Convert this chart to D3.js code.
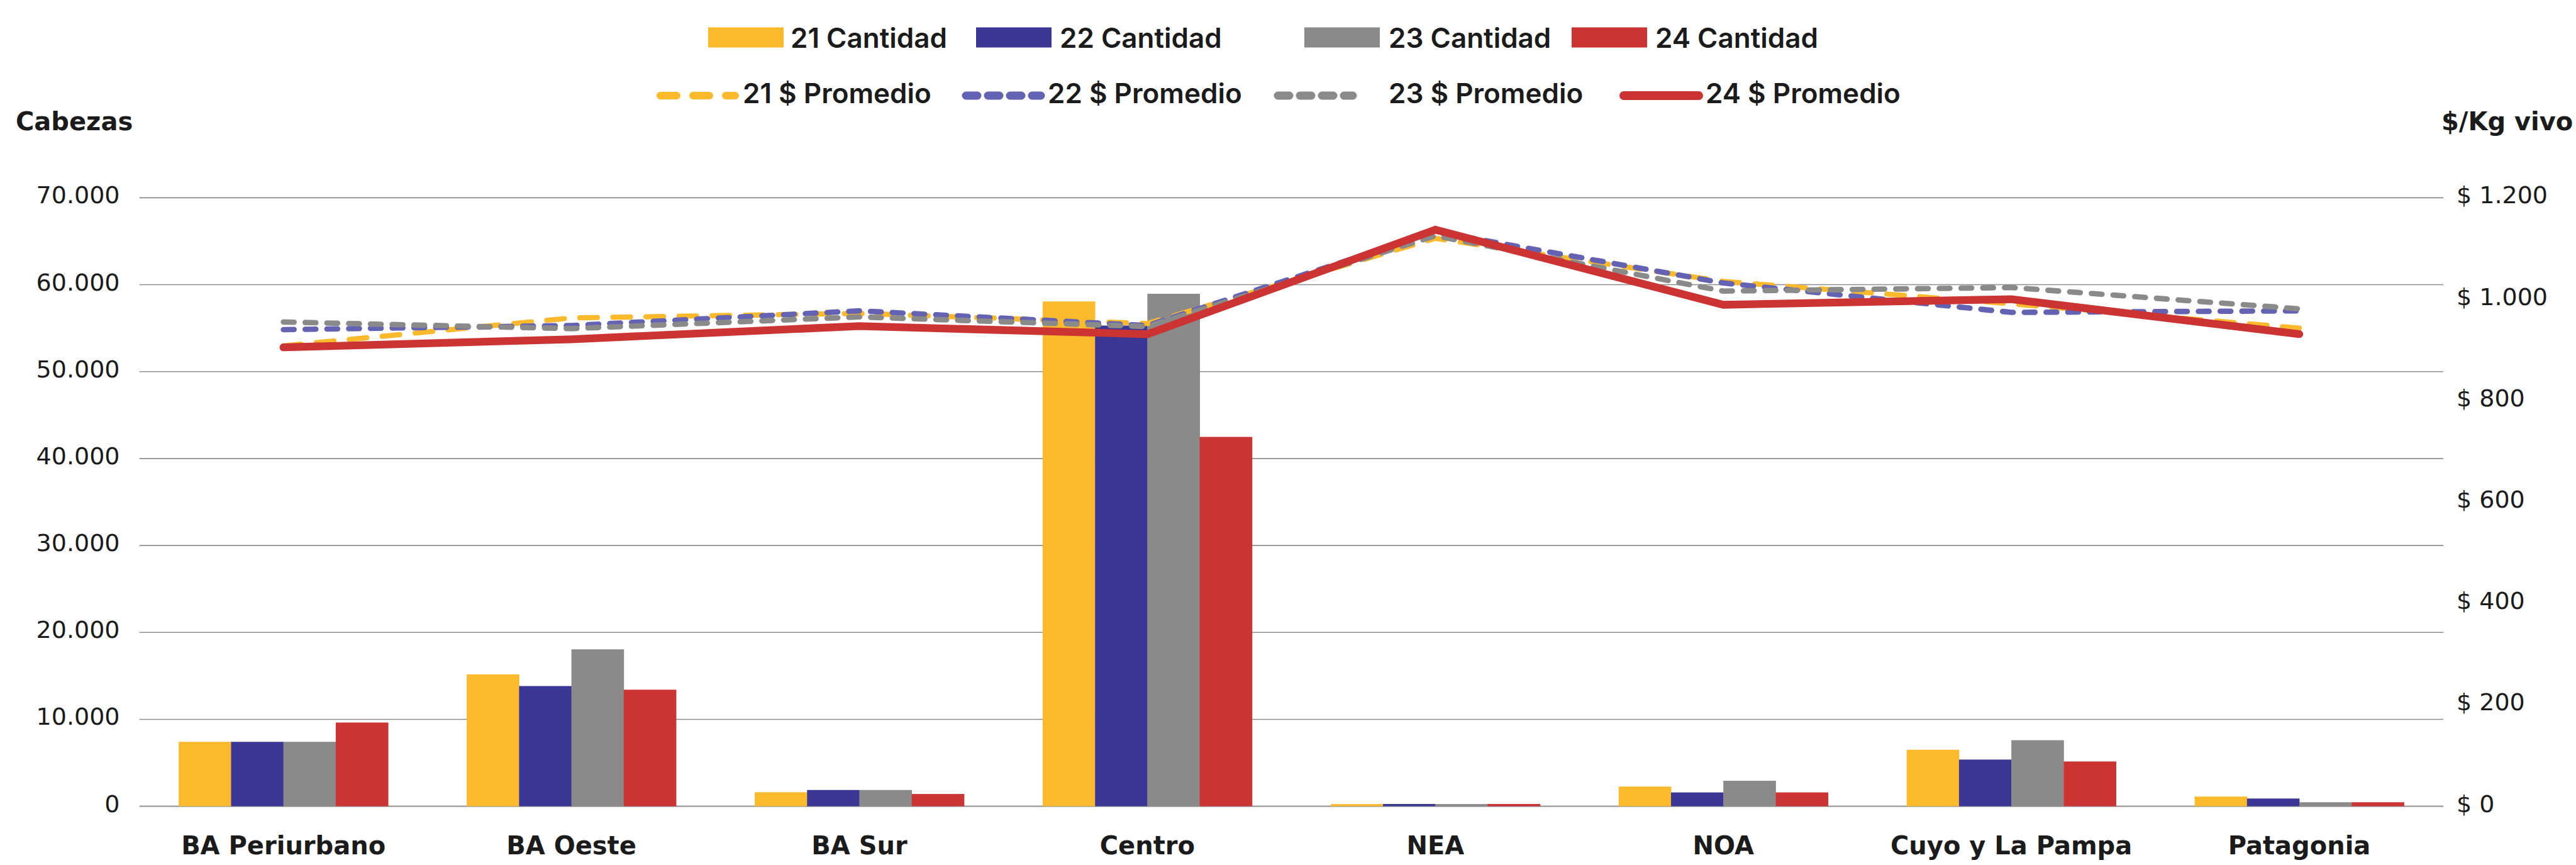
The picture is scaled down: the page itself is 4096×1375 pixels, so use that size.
<!DOCTYPE html>
<html>
<head>
<meta charset="utf-8">
<script src="https://cdn.jsdelivr.net/npm/d3@7"></script>
<style>
  html, body { margin: 0; padding: 0; background: #fff; }
  svg { display: block; font-family: 'DejaVu Sans', sans-serif; }
  .grid line { stroke: #8c8c8c; stroke-width: 1.6; }
  .grid line.zero { stroke: #9a9a9a; stroke-width: 2.2; }
  .tick-label { font-size: 38px; fill: #1b1b1b; }
  .cat-label { font-size: 40px; font-weight: bold; fill: #1b1b1b; }
  .axis-title { font-size: 40px; font-weight: bold; fill: #1b1b1b; }
  .legend text { font-family: Inter, 'DejaVu Sans', sans-serif; font-size: 44px; font-weight: 600; fill: #1b1b1b; }
</style>
</head>
<body>
<div id="chart"></div>
<script>
// regions
const categories = ['BA Periurbano', 'BA Oeste', 'BA Sur', 'Centro', 'NEA', 'NOA', 'Cuyo y La Pampa', 'Patagonia'];

// cabezas per year (bars, left axis)
const cantidad21 = [7410, 15170, 1610, 58070, 250, 2260, 6500, 1110];
const cantidad22 = [7410, 13830, 1870, 55300, 260, 1590, 5370, 890];
const cantidad23 = [7410, 18050, 1870, 58960, 250, 2930, 7600, 460];
const cantidad24 = [9630, 13410, 1410, 42490, 260, 1590, 5150, 460];

// $/kg vivo per year (lines, right axis)
const promedio21 = [908, 963, 972, 952, 1120, 1035, 991, 943];
const promedio22 = [940, 948, 977, 948, 1133, 1032, 974, 977];
const promedio23 = [955, 942, 965, 946, 1125, 1016, 1023, 981];
const promedio24 = [905, 921, 947, 931, 1137, 989, 1000, 931];

const barNames = ['21 Cantidad', '22 Cantidad', '23 Cantidad', '24 Cantidad'];
const lineNames = ['21 $ Promedio', '22 $ Promedio', '23 $ Promedio', '24 $ Promedio'];

const leftTicks = [0, 10000, 20000, 30000, 40000, 50000, 60000, 70000];
const rightTicks = [0, 200, 400, 600, 800, 1000, 1200];

const barColors = ['#FBB92C', '#3B3794', '#8A8A8A', '#CC3333'];
const lineColors = ['#FBB92C', '#6462B2', '#8A8A8A', '#CC3333'];
const lineWidths = [8.2, 8.6, 8.6, 12.3];
const lineDashes = ['28,24.6', '17,17.6', '17,17.6', null];
// the legend samples are drawn a bit heavier than the series
const legendWidths = [12, 13, 13, 14];
const legendDashes = ['26,26', '18,17', '18,17', null];

const width = 4096;
const height = 1375;
const margin = { top: 314.4, right: 211, bottom: 93.4, left: 221.7 };
const innerW = width - margin.left - margin.right;
const innerH = height - margin.top - margin.bottom;

const locale = d3.formatLocale({ decimal: ',', thousands: '.', grouping: [3], currency: ['$ ', ''] });
const fmtLeft = locale.format(',');
const fmtRight = d => '$ ' + locale.format(',')(d);

const svg = d3.select('#chart')
  .append('svg')
  .attr('width', width)
  .attr('height', height);

const plot = svg.append('g')
  .attr('transform', `translate(${margin.left}, ${margin.top})`);

// scales
const x0 = d3.scaleBand()
  .domain(categories)
  .range([0, innerW])
  .paddingInner(0.273)
  .paddingOuter(0.1365);
const x1 = d3.scaleBand()
  .domain(d3.range(4))
  .range([0, x0.bandwidth()]);
const yLeft = d3.scaleLinear().domain([0, 70000]).range([innerH, 0]);
const yRight = d3.scaleLinear().domain([0, 1200]).range([innerH, 0]);

// gridlines
plot.append('g')
  .attr('class', 'grid')
  .selectAll('line')
  .data(leftTicks)
  .join('line')
  .attr('class', d => d === 0 ? 'zero' : null)
  .attr('x1', 0)
  .attr('x2', innerW)
  .attr('y1', d => yLeft(d))
  .attr('y2', d => yLeft(d));

// left tick labels
svg.append('g')
  .selectAll('text')
  .data(leftTicks)
  .join('text')
  .attr('class', 'tick-label')
  .attr('text-anchor', 'end')
  .attr('x', 190.5)
  .attr('y', d => margin.top + yLeft(d) + 9)
  .text(fmtLeft);

// right tick labels
svg.append('g')
  .selectAll('text')
  .data(rightTicks)
  .join('text')
  .attr('class', 'tick-label')
  .attr('x', 3906)
  .attr('y', d => margin.top + yRight(d) + 9)
  .text(fmtRight);

// axis titles
svg.append('text').attr('class', 'axis-title').attr('x', 25).attr('y', 207).text('Cabezas');
svg.append('text').attr('class', 'axis-title').attr('x', 3882).attr('y', 207).text('$/Kg vivo');

// bars
const cantidades = [cantidad21, cantidad22, cantidad23, cantidad24];
const groups = plot.append('g')
  .attr('class', 'bars')
  .selectAll('g')
  .data(categories)
  .join('g')
  .attr('transform', d => `translate(${x0(d)}, 0)`);

groups.selectAll('rect')
  .data((d, i) => cantidades.map((s, k) => ({ k, value: s[i] })))
  .join('rect')
  .attr('x', d => x1(d.k))
  .attr('width', x1.bandwidth() + 0.4)
  .attr('y', d => yLeft(d.value))
  .attr('height', d => innerH - yLeft(d.value))
  .style('fill', d => barColors[d.k]);

// category labels
svg.append('g')
  .selectAll('text')
  .data(categories)
  .join('text')
  .attr('class', 'cat-label')
  .attr('text-anchor', 'middle')
  .attr('x', d => margin.left + x0(d) + x0.bandwidth() / 2)
  .attr('y', 1358)
  .text(d => d);

// lines
const promedios = [promedio21, promedio22, promedio23, promedio24];
const line = d3.line()
  .x((d, i) => x0(categories[i]) + x0.bandwidth() / 2)
  .y(d => yRight(d));

promedios.forEach((s, k) => {
  plot.append('path')
    .datum(s)
    .attr('d', line)
    .attr('fill', 'none')
    .attr('stroke', lineColors[k])
    .attr('stroke-width', lineWidths[k])
    .attr('stroke-dasharray', lineDashes[k])
    .attr('stroke-linecap', 'round')
    .attr('stroke-linejoin', k === 3 ? 'miter' : 'round');
});

// legend
const legend = svg.append('g').attr('class', 'legend');
const swatchX = [1126, 1552, 2074, 2499];
const swatchTextX = [1257, 1685, 2208, 2632];
const lineX = [1044, 1530, 2026, 2576];
const lineTextX = [1181, 1666, 2208, 2712];

barNames.forEach((name, k) => {
  legend.append('rect')
    .attr('x', swatchX[k]).attr('y', 43.5)
    .attr('width', 120).attr('height', 32)
    .style('fill', barColors[k]);
  legend.append('text')
    .attr('x', swatchTextX[k]).attr('y', 75.5)
    .text(name);
});

lineNames.forEach((name, k) => {
  legend.append('line')
    .attr('x1', lineX[k] + 6).attr('x2', lineX[k] + 125)
    .attr('y1', 152).attr('y2', 152)
    .attr('stroke', lineColors[k])
    .attr('stroke-width', legendWidths[k])
    .attr('stroke-dasharray', legendDashes[k])
    .attr('stroke-linecap', 'round');
  legend.append('text')
    .attr('x', lineTextX[k]).attr('y', 164)
    .text(name);
});
</script>
</body>
</html>
